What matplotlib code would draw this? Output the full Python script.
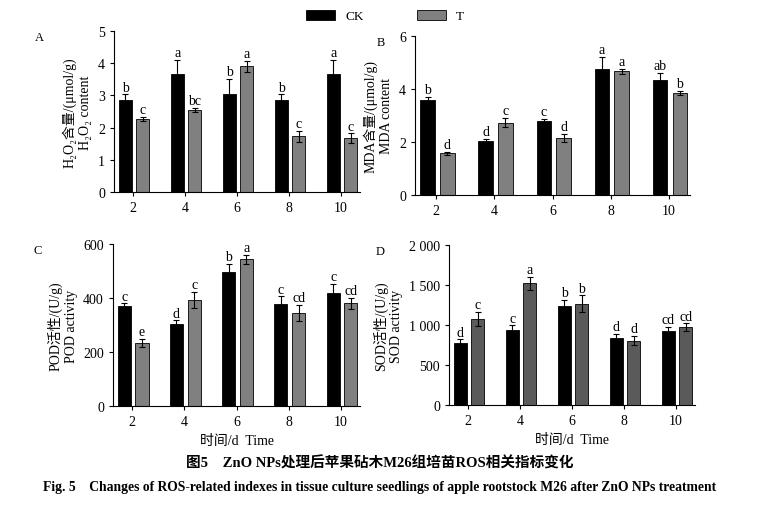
import numpy as np
import matplotlib.pyplot as plt

plt.rcParams['font.family'] = ['Liberation Serif', 'Noto Sans CJK SC', 'DejaVu Sans']
plt.rcParams['font.size'] = 9

days = [2, 4, 6, 8, 10]

h2o2_ck = [2.85, 3.68, 3.05, 2.85, 3.68]
h2o2_ck_err = [0.18, 0.42, 0.47, 0.18, 0.42]
h2o2_t = [2.27, 2.55, 3.90, 1.73, 1.67]
h2o2_t_err = [0.07, 0.05, 0.18, 0.17, 0.15]
h2o2_ck_let = ['b', 'a', 'b', 'b', 'a']
h2o2_t_let = ['c', 'bc', 'a', 'c', 'c']

mda_ck = [3.58, 2.05, 2.78, 4.75, 4.35]
mda_ck_err = [0.12, 0.08, 0.10, 0.45, 0.25]
mda_t = [1.58, 2.73, 2.15, 4.67, 3.85]
mda_t_err = [0.06, 0.18, 0.15, 0.10, 0.08]
mda_ck_let = ['b', 'd', 'c', 'a', 'ab']
mda_t_let = ['d', 'c', 'd', 'a', 'b']

pod_ck = [370, 305, 497, 378, 418]
pod_ck_err = [10, 12, 30, 28, 35]
pod_t = [235, 393, 543, 345, 380]
pod_t_err = [15, 30, 18, 30, 20]
pod_ck_let = ['c', 'd', 'b', 'c', 'c']
pod_t_let = ['e', 'c', 'a', 'cd', 'cd']

sod_ck = [770, 940, 1235, 840, 930]
sod_ck_err = [50, 55, 75, 50, 50]
sod_t = [1075, 1520, 1265, 805, 970]
sod_t_err = [85, 85, 105, 55, 50]
sod_ck_let = ['d', 'c', 'b', 'd', 'cd']
sod_t_let = ['c', 'a', 'b', 'd', 'cd']

fig = plt.figure(figsize=(7.61, 5.10), dpi=100)
W, H = 761, 510


def add_ax(l, r, t, b):
    return fig.add_axes([l / W, 1 - b / H, (r - l) / W, (b - t) / H])


def panel(ax, ck, cke, t, te, ckl, tl, ymax, yticks, ylab, letter, tcol, lx, ticklabels=None):
    x = np.array(days, dtype=float)
    w = 0.5
    ax.bar(x - 0.3, ck, w, yerr=cke, color='black', edgecolor='black', lw=0.6,
           error_kw=dict(lw=0.8, capsize=2, capthick=0.8), label='CK')
    ax.bar(x + 0.38, t, w, yerr=te, color=tcol, edgecolor='black', lw=0.6,
           error_kw=dict(lw=0.8, capsize=2, capthick=0.8), label='T')
    off = ymax * 0.005
    for xi, v, e, s in zip(x, ck, cke, ckl):
        ax.text(xi - 0.3, v + e + off, s, ha='center', va='bottom', fontsize=10)
    for xi, v, e, s in zip(x, t, te, tl):
        ax.text(xi + 0.38, v + e + off, s, ha='center', va='bottom', fontsize=10)
    ax.set_xlim(1.27, 10.73)
    ax.set_ylim(0, ymax)
    ax.set_xticks(days)
    ax.set_yticks(yticks)
    if ticklabels:
        ax.set_yticklabels(ticklabels)
    ax.set_ylabel(ylab, fontsize=10, linespacing=1.25)
    ax.spines['top'].set_visible(False)
    ax.spines['right'].set_visible(False)
    ax.tick_params(labelsize=10, length=3)
    ax.text(lx, 1.0, letter, transform=ax.transAxes, fontsize=9, ha='left', va='top')


axA = add_ax(114, 360, 32, 193)
panel(axA, h2o2_ck, h2o2_ck_err, h2o2_t, h2o2_t_err, h2o2_ck_let, h2o2_t_let,
      5, range(0, 6), 'H₂O₂含量/(μmol/g)\nH₂O₂ content', 'A', '#808080', -0.32)

axB = add_ax(415, 690, 37, 196)
panel(axB, mda_ck, mda_ck_err, mda_t, mda_t_err, mda_ck_let, mda_t_let,
      6, range(0, 7, 2), 'MDA含量/(μmol/g)\nMDA content', 'B', '#808080', -0.14)

axC = add_ax(113, 360, 245, 407)
panel(axC, pod_ck, pod_ck_err, pod_t, pod_t_err, pod_ck_let, pod_t_let,
      600, range(0, 601, 200), 'POD活性/(U/g)\nPOD activity', 'C', '#808080', -0.32)
axC.set_xlabel('时间/d  Time', fontsize=10)

axD = add_ax(449, 695, 246, 406)
panel(axD, sod_ck, sod_ck_err, sod_t, sod_t_err, sod_ck_let, sod_t_let,
      2000, range(0, 2001, 500), 'SOD活性/(U/g)\nSOD activity', 'D', '#5a5a5a', -0.3,
      ['0', '500', '1 000', '1 500', '2 000'])
axD.set_xlabel('时间/d  Time', fontsize=10)

h, l = axA.get_legend_handles_labels()
fig.legend(h, l, loc='center', bbox_to_anchor=(385 / W, 1 - 17 / H), ncol=2,
           frameon=False, fontsize=9.5, handlelength=2.2, handleheight=0.8, columnspacing=4)

fig.text(380 / W, 1 - 463 / H, '图5　ZnO NPs处理后苹果砧木M26组培苗ROS相关指标变化',
         ha='center', va='center', fontsize=10.5, fontweight='bold')
fig.text(380 / W, 1 - 487 / H,
         'Fig. 5    Changes of ROS-related indexes in tissue culture seedlings of apple rootstock M26 after ZnO NPs treatment',
         ha='center', va='center', fontsize=9.8, fontweight='bold')

fig.savefig('out.png', dpi=100)
